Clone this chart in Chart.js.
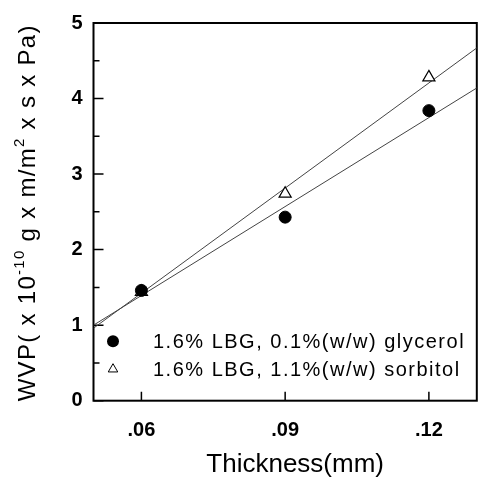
<!DOCTYPE html>
<html><head><meta charset="utf-8">
<script src="https://cdn.jsdelivr.net/npm/chart.js@4/dist/chart.umd.min.js"></script>
<style>html,body{margin:0;padding:0;background:#fff}#wrap{width:485px;height:480px}</style>
</head><body><div id="wrap"><canvas id="c" width="485" height="480"></canvas></div>
<script>
// ---- data ----
const thickness = [0.06, 0.09, 0.12];
const wvpGlycerol = [1.46, 2.43, 3.84];
const wvpSorbitol = [1.44, 2.74, 4.28];
const fitX = [0.05, 0.13];
const fitGlycerol = [1.00, 4.14];
const fitSorbitol = [0.96, 4.67];
const seriesLabels = ['1.6% LBG, 0.1%(w/w) glycerol', '1.6% LBG, 1.1%(w/w) sorbitol'];
const xTickValues = [0.06, 0.09, 0.12];
const xTickLabels = ['.06', '.09', '.12'];
const yTickValues = [0, 1, 2, 3, 4, 5];
const yMinorValues = [0.5, 1.5, 2.5, 3.5, 4.5];
const xTitle = 'Thickness(mm)';
const yTitleParts = [['WVP( x 10', false], ['-10', true], [' g x m/m', false], ['2', true], [' x s x Pa)', false]];

const FONT = "'Liberation Sans', Arial, Helvetica, sans-serif";
const toPts = (xs, ys) => xs.map((x, i) => ({x: x, y: ys[i]}));

const framePlugin = {
  id: 'frame',
  beforeDatasetsDraw(chart) {
    const {ctx, chartArea: {left, right, top, bottom}, scales: {x, y}} = chart;
    ctx.save();
    ctx.strokeStyle = '#000';
    ctx.lineWidth = 2;
    ctx.strokeRect(left, top, right - left, bottom - top);
    ctx.lineWidth = 1.5;
    ctx.beginPath();
    yTickValues.forEach(v => { const p = y.getPixelForValue(v); ctx.moveTo(left, p); ctx.lineTo(left + 10, p); });
    yMinorValues.forEach(v => { const p = y.getPixelForValue(v); ctx.moveTo(left, p); ctx.lineTo(left + 6, p); });
    xTickValues.forEach(v => { const p = x.getPixelForValue(v); ctx.moveTo(p, bottom); ctx.lineTo(p, bottom - 9); });
    ctx.stroke();
    ctx.restore();
  }
};

const legendPlugin = {
  id: 'insideLegend',
  afterDatasetsDraw(chart) {
    const {ctx, chartArea: {left, bottom}} = chart;
    ctx.save();
    const rows = [
      {label: chart.data.datasets[0].label, style: 'circle', y: bottom - 59.5},
      {label: chart.data.datasets[1].label, style: 'triangle', y: bottom - 31.5}
    ];
    rows.forEach(r => {
      const mx = left + 19.5;
      ctx.beginPath();
      ctx.strokeStyle = '#000';
      if (r.style === 'circle') {
        ctx.fillStyle = '#000';
        ctx.arc(mx, r.y, 6, 0, Math.PI * 2);
        ctx.fill();
      } else {
        const rr = 5.5;
        ctx.fillStyle = '#fff';
        ctx.lineWidth = 1;
        ctx.moveTo(mx, r.y - rr);
        ctx.lineTo(mx + rr * Math.sin(2 * Math.PI / 3), r.y - rr * Math.cos(2 * Math.PI / 3));
        ctx.lineTo(mx + rr * Math.sin(4 * Math.PI / 3), r.y - rr * Math.cos(4 * Math.PI / 3));
        ctx.closePath();
        ctx.fill();
        ctx.stroke();
      }
      ctx.fillStyle = '#000';
      ctx.font = '20px ' + FONT;
      ctx.letterSpacing = '1.5px';
      ctx.textAlign = 'left';
      ctx.textBaseline = 'middle';
      ctx.fillText(r.label, left + 59.5, r.y + 1);
      ctx.letterSpacing = '0px';
    });
    ctx.restore();
  }
};

const titlesPlugin = {
  id: 'axisTitles',
  afterDraw(chart) {
    const {ctx, chartArea: {left, right, top, bottom}} = chart;
    ctx.save();
    ctx.fillStyle = '#000';
    // x title
    ctx.font = '26px ' + FONT;
    ctx.textAlign = 'center';
    ctx.textBaseline = 'middle';
    ctx.fillText(xTitle, (left + right) / 2 + 10, bottom + 64);
    // y title (rotated, with superscripts)
    const mainFont = '24px ' + FONT, supFont = '15px ' + FONT;
    ctx.letterSpacing = '1.3px';
    let total = 0;
    const widths = yTitleParts.map(([t, sup]) => { ctx.font = sup ? supFont : mainFont; const w = ctx.measureText(t).width; total += w; return w; });
    ctx.translate(35, (top + bottom) / 2 + 1);
    ctx.rotate(-Math.PI / 2);
    ctx.textAlign = 'left';
    ctx.textBaseline = 'alphabetic';
    let cx = -total / 2;
    yTitleParts.forEach(([t, sup], i) => {
      ctx.font = sup ? supFont : mainFont;
      ctx.fillText(t, cx, sup ? -11 : 0);
      cx += widths[i];
    });
    ctx.letterSpacing = '0px';
    ctx.restore();
  }
};

new Chart(document.getElementById('c'), {
  type: 'scatter',
  data: {
    datasets: [
      {label: seriesLabels[0], data: toPts(thickness, wvpGlycerol), pointStyle: 'circle', pointRadius: 6, pointHoverRadius: 6,
       backgroundColor: '#000', borderColor: '#000', borderWidth: 1},
      {label: seriesLabels[1], data: toPts(thickness, wvpSorbitol), pointStyle: 'triangle', pointRadius: 7, pointHoverRadius: 7,
       backgroundColor: '#fff', borderColor: '#000', borderWidth: 1.2},
      {label: 'fit glycerol', data: toPts(fitX, fitGlycerol), showLine: true, pointRadius: 0, borderColor: '#444', borderWidth: 1, fill: false},
      {label: 'fit sorbitol', data: toPts(fitX, fitSorbitol), showLine: true, pointRadius: 0, borderColor: '#444', borderWidth: 1, fill: false}
    ]
  },
  options: {
    responsive: false,
    animation: false,
    devicePixelRatio: 1,
    layout: {padding: {top: 13, right: 4, left: 0, bottom: 0}},
    plugins: {legend: {display: false}, tooltip: {enabled: false}},
    scales: {
      x: {
        type: 'linear', min: 0.05, max: 0.13,
        afterBuildTicks: s => { s.ticks = xTickValues.map(v => ({value: v})); },
        afterFit: s => { s.height = 79.3; },
        ticks: {
          autoSkip: false, maxRotation: 0, padding: 18, color: '#000',
          font: {family: FONT, size: 20, weight: 'bold'},
          callback: v => { const i = xTickValues.findIndex(t => Math.abs(t - v) < 1e-9); return i >= 0 ? xTickLabels[i] : ''; }
        },
        grid: {display: false, drawTicks: false, tickLength: 0}, border: {display: false}
      },
      y: {
        min: 0, max: 5,
        afterBuildTicks: s => { s.ticks = yTickValues.map(v => ({value: v})); },
        afterFit: s => { s.width = 93.5; },
        ticks: {padding: 11, color: '#000', font: {family: FONT, size: 20, weight: 'bold'}},
        grid: {display: false, drawTicks: false, tickLength: 0}, border: {display: false}
      }
    }
  },
  plugins: [framePlugin, legendPlugin, titlesPlugin]
});
</script>
</body></html>
